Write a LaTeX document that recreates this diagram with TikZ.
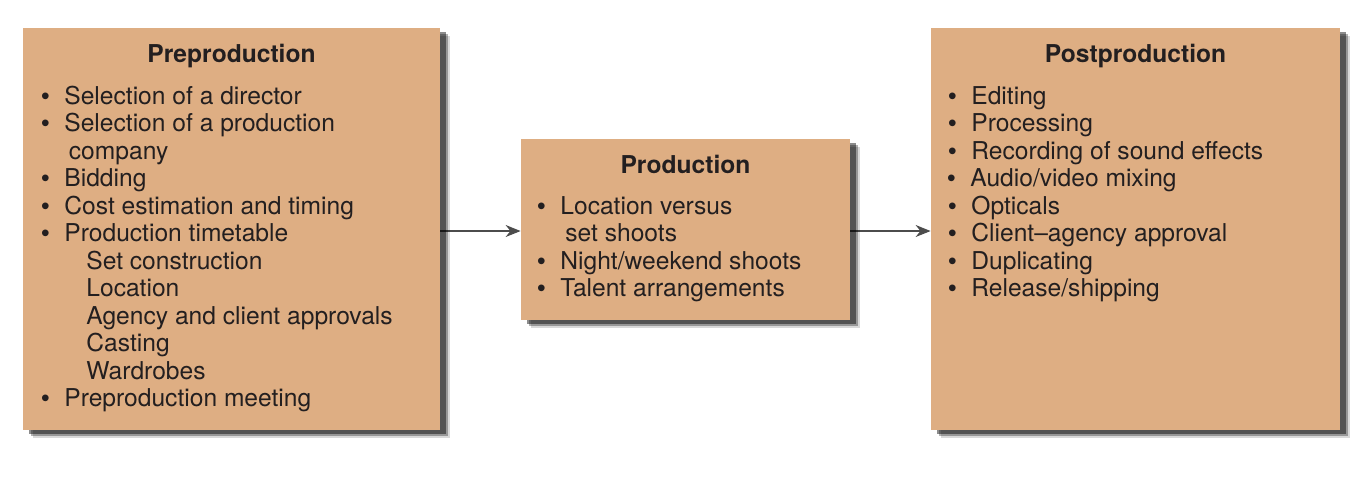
\documentclass[tikz,border=0pt]{standalone}
\usepackage{fontspec}
\setmainfont{TeX Gyre Heros}
\newfontfamily\bulfont{Liberation Sans}
\usetikzlibrary{arrows.meta,shadows,backgrounds}
\definecolor{boxfill}{RGB}{222,174,131}
\definecolor{ink}{RGB}{35,31,32}
\newcommand\bul{\llap{{\bulfont\textbullet}\hspace{7.3pt}}}
\begin{document}
\begin{tikzpicture}[x=0.5pt,y=-0.5pt,
  box/.style={draw=none, fill=boxfill, inner sep=0,
    drop shadow={shadow xshift=5pt, shadow yshift=-3.8pt, fill=black, opacity=0.15},
    drop shadow={shadow xshift=4pt, shadow yshift=-3pt, fill=black, opacity=0.3},
    drop shadow={shadow xshift=3pt, shadow yshift=-2.2pt, fill=black, opacity=0.45}},
  ttl/.style={font=\fontsize{12.3}{13.75}\selectfont\bfseries, text=ink, anchor=base, inner sep=0},
  item/.style={font=\fontsize{12.3}{13.75}\selectfont, text=ink, anchor=base west, inner sep=0},
  conn/.style={draw=black!70, line width=0.6pt, -{Stealth[length=7.5pt,width=6pt]}}]
\useasboundingbox (0,0) rectangle (1372,494);
% boxes
\node[box, minimum width=208.5pt, minimum height=201pt] (pre) at (231.5,229) {};
\node[box, minimum width=164.5pt, minimum height=90.5pt] (prod) at (685.5,229.5) {};
\node[box, minimum width=204.5pt, minimum height=201pt] (post) at (1135.5,229) {};
% connectors
\coordinate (ya) at (0,231);
\begin{scope}[on background layer]
\draw[conn] (pre.east |- ya) -- (prod.west |- ya);
\draw[conn] (prod.east |- ya) -- (post.west |- ya);
\end{scope}
% Preproduction
\node[ttl] (preT) at (231.5,62.7) {Preproduction};
\node[item] (a1) at (64,104) {\bul Selection of a director};
\node[item] (a2) at (64,131.5) {\bul Selection of a production};
\node[item] (a3) at (68.5,159) {company};
\node[item] (a4) at (64,186.5) {\bul Bidding};
\node[item] (a5) at (64,214) {\bul Cost estimation and timing};
\node[item] (a6) at (64,241.5) {\bul Production timetable};
\node[item] (a7) at (86,269) {Set construction};
\node[item] (a8) at (86,296.5) {Location};
\node[item] (a9) at (86,324) {Agency and client approvals};
\node[item] (a10) at (86,351.5) {Casting};
\node[item] (a11) at (86,379) {Wardrobes};
\node[item] (a12) at (64,406.5) {\bul Preproduction meeting};
% Production
\node[ttl] (prodT) at (685.5,173.3) {Production};
\node[item] (b1) at (560,214) {\bul Location versus};
\node[item] (b2) at (565,241.5) {set shoots};
\node[item] (b3) at (560,269) {\bul Night/weekend shoots};
\node[item] (b4) at (560,296.5) {\bul Talent arrangements};
% Postproduction
\node[ttl] (postT) at (1135.5,62.7) {Postproduction};
\node[item] (c1) at (971,104) {\bul Editing};
\node[item] (c2) at (971,131.5) {\bul Processing};
\node[item] (c3) at (971,159) {\bul Recording of sound effects};
\node[item] (c4) at (970,186.5) {\bul Audio/video mixing};
\node[item] (c5) at (971,214) {\bul Opticals};
\node[item] (c6) at (971,241.5) {\bul Client--agency approval};
\node[item] (c7) at (971,269) {\bul Duplicating};
\node[item] (c8) at (971,296.5) {\bul Release/shipping};
\end{tikzpicture}
\end{document}
